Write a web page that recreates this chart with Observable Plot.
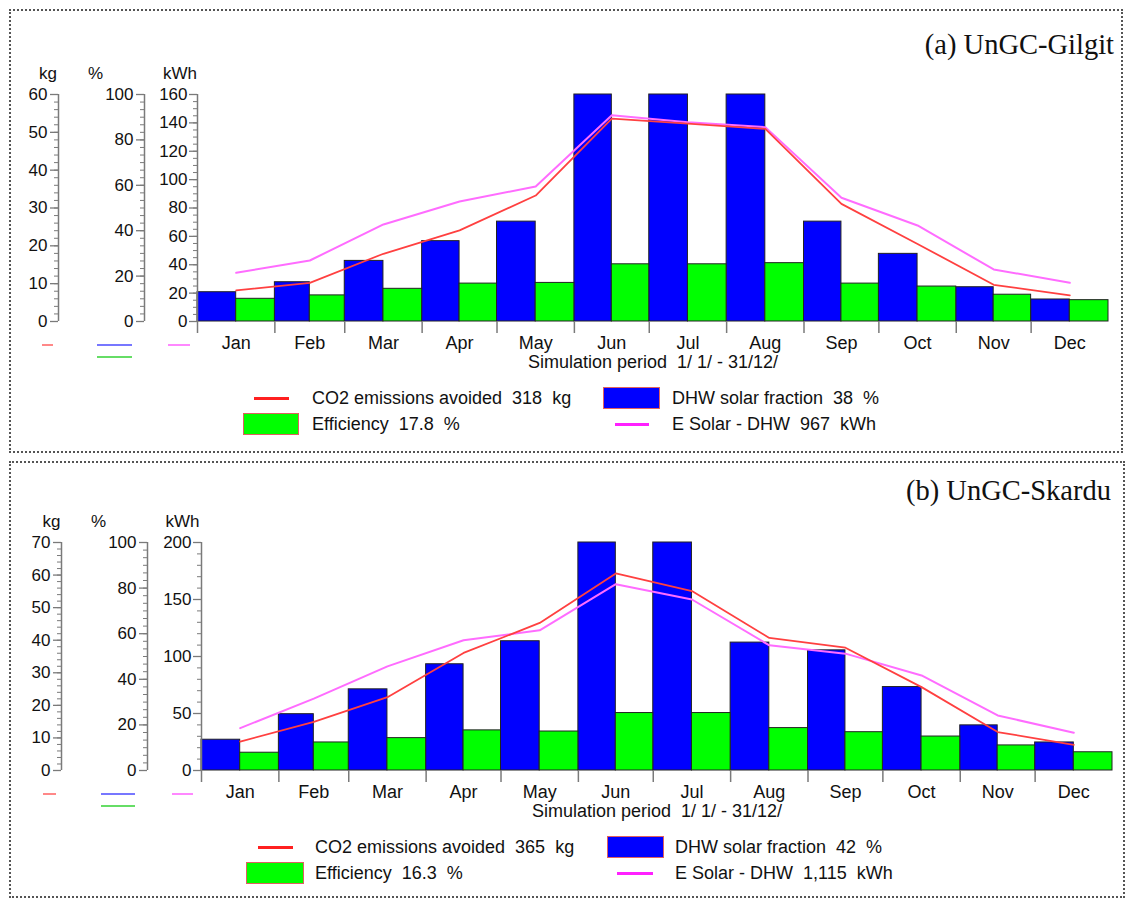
<!DOCTYPE html>
<html><head><meta charset="utf-8">
<script src="https://cdn.jsdelivr.net/npm/d3@7"></script>
<script src="https://cdn.jsdelivr.net/npm/@observablehq/plot@0.6"></script>
<style>
body{margin:0;background:#fff;font-family:"Liberation Sans",Arial,sans-serif;}
#page{position:relative;width:1126px;height:900px;overflow:hidden;background:#fff;}
.box{position:absolute;border:2px dotted #555;box-sizing:border-box;}
.layer{position:absolute;left:0;}
.layer svg{overflow:visible;display:block}
.title{position:absolute;font-family:"Liberation Serif","Times New Roman",serif;font-size:28.5px;color:#111;white-space:nowrap;line-height:1;transform:translateY(-50%);}
.lg{position:absolute;font-size:18px;color:#111;white-space:pre;line-height:1;transform:translateY(-50%);}
.sw{position:absolute;box-sizing:border-box;}
</style></head><body><div id="page"></div>
<script>
// ---------- data ----------
const months = ["Jan","Feb","Mar","Apr","May","Jun","Jul","Aug","Sep","Oct","Nov","Dec"];

// (a) UnGC-Gilgit
const gilgitSolarFraction = [12.9,17.3,26.7,35.4,44,100,100,100,44,29.8,15.1,9.7];   // %
const gilgitEfficiency    = [10,11.5,14.4,16.7,17,25.2,25.2,25.7,16.7,15.4,11.8,9.4]; // %
const gilgitESolar        = [34.3,43,68.4,84.6,95.2,145.4,140.5,137,87.2,67.7,36.7,27.3]; // kWh
const gilgitCO2           = [8.2,10.2,17.9,24.1,33.3,53.6,52.3,50.9,31.1,20.5,9.7,6.9];   // kg

// (b) UnGC-Skardu
const skarduSolarFraction = [13.5,24.7,35.6,46.6,56.7,100,100,56.1,52.7,36.6,19.8,12.3];
const skarduEfficiency    = [7.8,12.3,14.2,17.6,17.1,25.2,25.2,18.6,16.8,14.9,11,8];
const skarduESolar        = [37.2,63,91.3,114.2,123,163.4,150,109.8,102.5,83.4,48.3,33.1];
const skarduCO2           = [8.9,14.9,22.5,36.1,45.3,60.5,55.1,40.7,37.7,25.6,11.8,7.9];

// axis ticks
const kgTicksA  = [0,10,20,30,40,50,60];
const kgTicksB  = [0,10,20,30,40,50,60,70];
const pctTicks  = [0,20,40,60,80,100];
const kwhTicksA = [0,20,40,60,80,100,120,140,160];
const kwhTicksB = [0,50,100,150,200];

const simLabel = "Simulation period  1/ 1/ - 31/12/";
const titles = ["(a) UnGC-Gilgit", "(b) UnGC-Skardu"];
const legendA = ["CO2 emissions avoided  318  kg", "DHW solar fraction  38  %", "Efficiency  17.8  %", "E Solar - DHW  967  kWh"];
const legendB = ["CO2 emissions avoided  365  kg", "DHW solar fraction  42  %", "Efficiency  16.3  %", "E Solar - DHW  1,115  kWh"];

// ---------- helpers ----------
const x0 = new Date(Date.UTC(2001,0,1)), x1 = new Date(Date.UTC(2002,0,1));
const starts = months.map((m,i)=>new Date(Date.UTC(2001,i,1)));
const ends = months.map((m,i)=>new Date(Date.UTC(2001,i+1,1)));
const mids = starts.map((s,i)=>new Date((+s + +ends[i])/2));

const C = {blue:"#0000ff", green:"#00ff00", red:"#ff4040", pink:"#ff6cff", axis:"#7a7a7a", bar:"#222"};
const FONT = '"Liberation Sans", Arial, sans-serif';
const page = document.getElementById("page");

function el(tag, cls, css, text){
  const e = document.createElement(tag);
  if (cls) e.className = cls;
  Object.assign(e.style, css);
  if (text != null) e.textContent = text;
  page.appendChild(e);
  return e;
}

function panel(P){
  const rows = months.map((m,i)=>({month:m, start:starts[i], mid:mids[i], end:ends[i],
    frac:P.frac[i], eff:P.eff[i], es:P.es[i], co2:P.co2[i]}));
  const H = P.mt + P.ph + P.mb;
  const common = (domain, marks) => Plot.plot({
    width:1126, height:H,
    marginTop:P.mt, marginBottom:P.mb, marginLeft:P.ml, marginRight:P.mr,
    x:{type:"utc", domain:[x0,x1], axis:null, label:null},
    y:{domain, axis:null, label:null},
    style:{background:"transparent", fontFamily:FONT, fontSize:"17px", color:"#111", overflow:"visible"},
    marks
  });
  const minor = (max, step) => d3.range(0, max + 1e-6, step);
  const unit = (s, dx) => Plot.text([s], {text:d=>d, frameAnchor:"top-left", textAnchor:"middle", lineAnchor:"middle", dx, dy:-21, fontSize:17});

  // % layer: bars
  const pct = common([0,100], [
    Plot.rect(rows, {x1:"start", x2:"mid", y1:0, y2:"frac", fill:C.blue, stroke:C.bar, strokeWidth:1}),
    Plot.rect(rows, {x1:"mid", x2:"end", y1:0, y2:"eff", fill:C.green, stroke:C.bar, strokeWidth:1}),
    Plot.ruleX([x0], {y1:0, y2:100, dx:P.pctDx, stroke:C.axis, strokeWidth:1.5}),
    Plot.axisY({ticks:minor(100, 100/30), tickSize:4, tickFormat:()=>"", label:null, dx:P.pctDx, stroke:C.axis}),
    Plot.axisY({ticks:pctTicks, tickSize:8, tickPadding:3, label:null, dx:P.pctDx, stroke:C.axis, strokeWidth:1.3, fontSize:17}),
    unit("%", P.pctUnitDx)
  ]);
  // kWh layer: pink line, kWh axis, x axis
  const kwh = common([0,P.kwhMax], [
    Plot.line(rows, {x:"mid", y:"es", stroke:C.pink, strokeWidth:2}),
    Plot.ruleX([x0], {y1:0, y2:P.kwhMax, stroke:C.axis, strokeWidth:1.5}),
    Plot.axisY({ticks:minor(P.kwhMax, P.kwhMinor), tickSize:4, tickFormat:()=>"", label:null, stroke:C.axis}),
    Plot.axisY({ticks:P.kwhTicks, tickSize:8, tickPadding:2, label:null, stroke:C.axis, strokeWidth:1.3, fontSize:17}),
    unit("kWh", P.kwhUnitDx),
    Plot.axisX({ticks:starts, tickSize:12, tickFormat:()=>"", label:null, stroke:C.axis, strokeWidth:1.5}),
    Plot.text(rows, {x:"mid", text:"month", frameAnchor:"bottom", lineAnchor:"middle", dy:22, fontSize:18}),
    Plot.text([simLabel], {text:d=>d, frameAnchor:"bottom", lineAnchor:"middle", dy:41, fontSize:18})
  ]);
  // kg layer: red line, kg axis
  const kg = common([0,P.kgMax], [
    Plot.line(rows, {x:"mid", y:"co2", stroke:C.red, strokeWidth:1.8}),
    Plot.ruleX([x0], {y1:0, y2:P.kgMax, dx:P.kgDx, stroke:C.axis, strokeWidth:1.5}),
    Plot.axisY({ticks:minor(P.kgMax, 2), tickSize:4, tickFormat:()=>"", label:null, dx:P.kgDx, stroke:C.axis}),
    Plot.axisY({ticks:P.kgTicks, tickSize:8, tickPadding:3, label:null, dx:P.kgDx, stroke:C.axis, strokeWidth:1.3, fontSize:17}),
    unit("kg", P.kgUnitDx)
  ]);
  for (const svg of [pct, kwh, kg]){
    const d = el("div", "layer", {top:P.top+"px"});
    d.appendChild(svg);
  }
  // title
  el("div", "title", {right:P.titleRight+"px", top:P.titleY+"px"}, P.title);
  // small series hints under the axes
  for (const h of P.hints) el("div", "sw", {left:h[0]+"px", width:(h[1]-h[0])+"px", top:(h[2]-1)+"px", height:"2px", background:h[3]});
  // legend
  const L = P.legend;
  el("div", "sw", {left:L.red[0]+"px", width:(L.red[1]-L.red[0])+"px", top:(L.y1-1.5)+"px", height:"3px", background:"#ff2020"});
  el("div", "lg", {left:L.t1+"px", top:L.y1+"px"}, P.labels[0]);
  el("div", "sw", {left:L.blue[0]+"px", width:(L.blue[1]-L.blue[0])+"px", top:(L.y1-11)+"px", height:"22px", background:C.blue, border:"1px solid #e06060"});
  el("div", "lg", {left:L.t2+"px", top:L.y1+"px"}, P.labels[1]);
  el("div", "sw", {left:L.green[0]+"px", width:(L.green[1]-L.green[0])+"px", top:(L.y2-11)+"px", height:"22px", background:C.green, border:"1px solid #e06060"});
  el("div", "lg", {left:L.t1+"px", top:L.y2+"px"}, P.labels[2]);
  el("div", "sw", {left:L.pink[0]+"px", width:(L.pink[1]-L.pink[0])+"px", top:(L.y2-1.5)+"px", height:"3px", background:"#ff20ff"});
  el("div", "lg", {left:L.t2+"px", top:L.y2+"px"}, P.labels[3]);
}

// boxes
el("div", "box", {left:"9px", top:"9px", width:"1114px", height:"444px"});
el("div", "box", {left:"9px", top:"461px", width:"1116px", height:"437px"});

panel({
  top:60, mt:34, ph:227, mb:60, ml:197, mr:18,
  frac:gilgitSolarFraction, eff:gilgitEfficiency, es:gilgitESolar, co2:gilgitCO2,
  kwhMax:160, kwhTicks:kwhTicksA, kwhMinor:5, kgMax:60, kgTicks:kgTicksA,
  pctDx:-53, kgDx:-139, kgUnitDx:-149.5, pctUnitDx:-102, kwhUnitDx:-17.5,
  title:titles[0], titleRight:12, titleY:45,
  hints:[[42,53,345,"#ff8888"],[97,132,345,"#7777ff"],[97,132,357,"#66dd66"],[168,190,345,"#ff88ff"]],
  legend:{y1:398, y2:424, red:[254,289], t1:312, blue:[603,660], t2:672, green:[243,299], pink:[615,649]},
  labels:legendA
});
panel({
  top:508, mt:34, ph:228, mb:60, ml:201, mr:14,
  frac:skarduSolarFraction, eff:skarduEfficiency, es:skarduESolar, co2:skarduCO2,
  kwhMax:200, kwhTicks:kwhTicksB, kwhMinor:10, kgMax:70, kgTicks:kgTicksB,
  pctDx:-54, kgDx:-140, kgUnitDx:-150, pctUnitDx:-103, kwhUnitDx:-19,
  title:titles[1], titleRight:15, titleY:491,
  hints:[[43,56,794,"#ff8888"],[101,135,794,"#7777ff"],[101,135,806,"#66dd66"],[172,193,794,"#ff88ff"]],
  legend:{y1:847, y2:873, red:[258,293], t1:315, blue:[607,664], t2:675, green:[246,304], pink:[617,653]},
  labels:legendB
});
</script></body></html>
